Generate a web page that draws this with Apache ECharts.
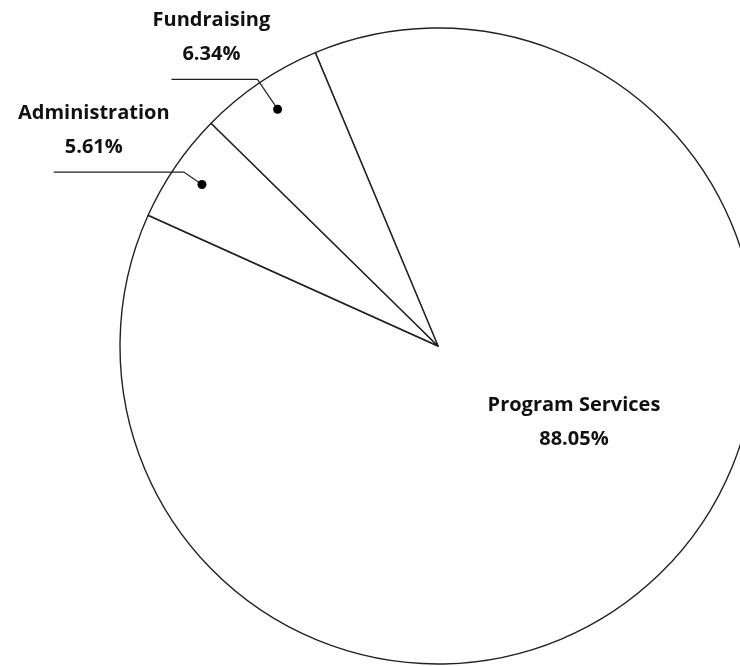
<!DOCTYPE html>
<html>
<head>
<meta charset="utf-8">
<script src="https://cdn.jsdelivr.net/npm/echarts@6/dist/echarts.min.js"></script>
<style>
  html, body { margin: 0; padding: 0; background: #fff; }
  #chart { width: 740px; height: 666px; }
</style>
</head>
<body>
<div id="chart"></div>
<script>
  // expense breakdown
  var categories = ['Program Services', 'Administration', 'Fundraising']
  var percents = [88.05, 5.61, 6.34]

  var center = [438, 346]
  var radius = 318
  var dotR = 286 // where the leader dots sit
  var startAngle = 112.7

  var pieData = categories.map(function (name, i) {
    return { name: name, value: percents[i] }
  })

  // dots at the middle of the two small slices, same angles as the pie
  var dots = []
  var acc = 0
  percents.forEach(function (v, i) {
    if (i > 0) dots.push([dotR / radius, acc + v / 2])
    acc += v
  })

  var labelFont = {
    fontFamily: 'Open Sans',
    fontWeight: 'bold',
    fontSize: 20,
    lineHeight: 34,
    color: '#111'
  }

  var myChart = echarts.init(document.getElementById('chart'))
  var option = {
    animation: false,
    polar: { center: center, radius: radius },
    angleAxis: {
      type: 'value', min: 0, max: 100,
      startAngle: startAngle, clockwise: true,
      show: false, splitLine: { show: false }
    },
    radiusAxis: { min: 0, max: 1, show: false, splitLine: { show: false } },
    series: [{
      // the pie itself
      type: 'pie',
      z: 1,
      center: center,
      radius: [0, radius],
      startAngle: startAngle,
      clockwise: true,
      silent: true,
      avoidLabelOverlap: false,
      itemStyle: { color: '#fff', borderColor: '#222', borderWidth: 1.4 },
      label: Object.assign({
        show: true, position: 'inside',
        formatter: function (p) {
          return p.dataIndex === 0 ? p.name + '\n' + p.value + '%' : ''
        }
      }, labelFont),
      labelLine: { show: false },
      labelLayout: function (p) {
        return p.dataIndex === 0 ? { dx: 23, dy: -40 } : {}
      },
      data: pieData
    }, {
      // invisible copy, only used for the outside labels
      type: 'pie',
      z: 3,
      center: center,
      radius: [0, dotR],
      startAngle: startAngle,
      clockwise: true,
      silent: true,
      avoidLabelOverlap: false,
      itemStyle: { color: 'transparent', borderWidth: 0 },
      label: Object.assign({
        show: true, position: 'outside',
        formatter: function (p) {
          return p.dataIndex === 0 ? '' : p.name + '\n' + p.value + '%'
        }
      }, labelFont),
      labelLine: {
        show: true,
        length: 36,
        length2: 86,
        lineStyle: { color: '#222', width: 1.2 }
      },
      labelLayout: function (p) {
        var pts = p.labelLinePoints
        if (p.dataIndex === 0 || !pts) return {}
        var end = pts[pts.length - 1]
        return {
          x: end[0] + 40,
          y: end[1] - 8,
          align: 'center',
          verticalAlign: 'bottom',
          labelLinePoints: pts
        }
      },
      data: pieData.map(function (d, i) {
        if (i === 0) return { name: d.name, value: d.value, labelLine: { show: false } }
        if (i === 1) return { name: d.name, value: d.value, labelLine: { length: 22, length2: 130 } }
        return d
      })
    }, {
      type: 'scatter',
      z: 4,
      coordinateSystem: 'polar',
      symbolSize: 9,
      silent: true,
      itemStyle: { color: '#000', opacity: 1 },
      data: dots
    }]
  }
  option && myChart.setOption(option)
  window.addEventListener('resize', myChart.resize)
</script>
</body>
</html>
